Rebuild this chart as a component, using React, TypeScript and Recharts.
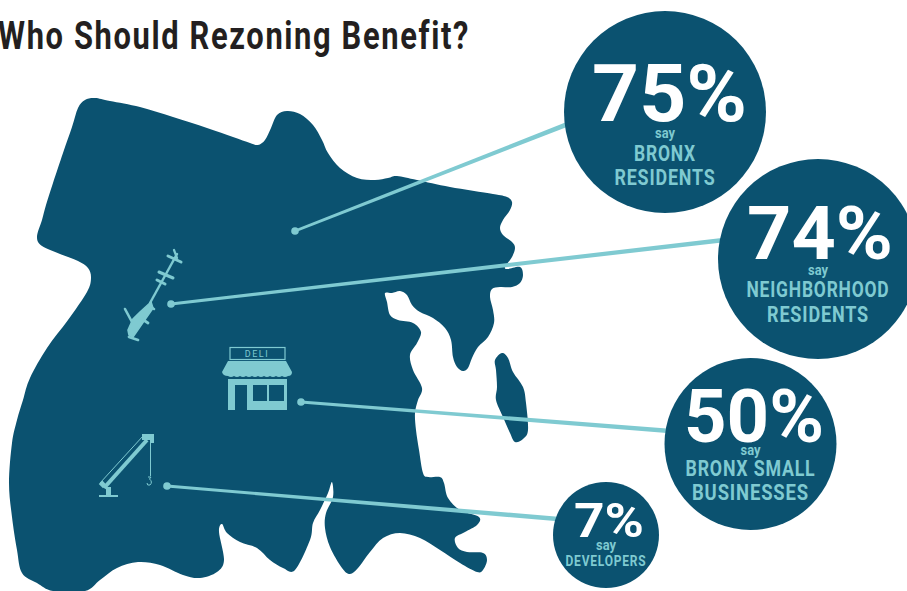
import { Scatter, ScatterChart, XAxis, YAxis } from "recharts";

const NAVY = "#0b5270";
const TEAL = "#7fcad1";
const FONT = "Roboto, sans-serif";

const title = "Who Should Rezoning Benefit?";

// survey results
const percents = ["75%", "74%", "50%", "7%"];
const groupLines = [
  ["BRONX", "RESIDENTS"],
  ["NEIGHBORHOOD", "RESIDENTS"],
  ["BRONX SMALL", "BUSINESSES"],
  ["DEVELOPERS"],
];

// bubble placement on the page
const bubbleX = [665, 818, 750.5, 606];
const bubbleY = [112, 259, 444, 535];
const bubbleR = [101, 100, 86, 53];
const percentSize = [80, 75, 74, 49];
const percentWidth = [155, 146, 140, 70];
const percentLeft = [592, 747, 684, 574];
const labelSize = [22, 22, 22, 15];
const percentBase = [121, 259, 442, 537];
const sayBase = [138, 275, 455, 550];
const labelBases = [[161, 185], [297, 322], [476, 500], [566]];
const labelWidths = [[62, 101], [143, 102], [130, 117], [81]];

// leader lines: start on the map, end at the bubble
const leaderStartX = [295, 171, 301, 167];
const leaderStartY = [231, 304, 402, 486];
const leaderEndX = [568, 724, 670, 558];
const leaderEndY = [124, 240, 431, 519];

// map outline
const mapX = [
  42, 46, 53, 63, 72, 78, 85, 95, 110, 140, 173, 207, 233, 250, 258, 265, 271, 277, 287, 300, 313, 322, 328, 340, 357,
  375, 388, 397, 417, 450, 493, 507, 512, 510, 503, 500, 503, 512, 515, 512, 505, 508, 520, 523, 520, 512, 500, 492,
  490, 493, 494, 488, 478, 472, 468, 463, 457, 453, 451, 445, 433, 420, 412, 407, 400, 392, 385, 387, 390, 398, 413,
  421, 417, 410, 413, 422, 418, 415, 416, 419, 423, 428, 440, 444, 448, 460, 479, 477, 465, 455, 458, 467, 483, 487,
  483, 477, 460, 440, 420, 400, 383, 370, 358, 350, 342, 330, 325, 326, 333, 332, 328, 320, 313, 310, 295, 283, 270,
  257, 240, 227, 222, 219, 224, 217, 200, 183, 160, 138, 117, 100, 85, 53, 37, 22, 17, 12, 9, 12, 17, 23, 30, 47, 68,
  87, 91, 88, 78, 60, 42, 37,
];
const mapY = [
  220, 205, 183, 153, 127, 108, 100, 98, 101, 107, 117, 128, 137, 143, 145, 140, 128, 115, 111, 114, 125, 140, 153,
  168, 178, 180, 178, 176, 180, 187, 194, 197, 202, 210, 220, 228, 235, 242, 248, 257, 267, 269, 267, 275, 283, 287,
  287, 289, 297, 310, 323, 337, 347, 358, 368, 371, 367, 357, 340, 328, 318, 312, 305, 295, 291, 293, 293, 302, 315,
  320, 323, 332, 343, 355, 370, 388, 400, 413, 430, 450, 473, 477, 477, 483, 498, 510, 517, 525, 532, 538, 548, 552,
  553, 560, 570, 572, 563, 550, 538, 533, 538, 552, 568, 574, 568, 547, 528, 513, 497, 482, 493, 510, 523, 540, 570,
  568, 560, 548, 542, 533, 524, 532, 560, 572, 578, 575, 565, 562, 568, 580, 591, 591, 583, 573, 550, 517, 483, 443,
  420, 400, 378, 348, 320, 292, 278, 268, 261, 254, 246, 237,
];
const islandX = [495, 502, 508, 513, 523, 526, 528, 523, 515, 510, 503, 496, 497, 496];
const islandY = [360, 353, 358, 372, 387, 403, 430, 439, 442, 433, 417, 400, 387, 370];

const iconX = [150, 258, 125];
const iconY = [300, 380, 465];

const zip = (xs: number[], ys: number[]) => xs.map((x, i) => ({ x, y: ys[i] }));
const bubbles = percents.map((percent, i) => ({ x: bubbleX[i], y: bubbleY[i], i, percent }));

function smoothClosed(points: { x: number; y: number }[]) {
  const n = points.length;
  let d = `M${points[0].x},${points[0].y}`;
  for (let i = 0; i < n; i++) {
    const p0 = points[(i - 1 + n) % n];
    const p1 = points[i];
    const p2 = points[(i + 1) % n];
    const p3 = points[(i + 2) % n];
    const c1x = p1.x + (p2.x - p0.x) / 6;
    const c1y = p1.y + (p2.y - p0.y) / 6;
    const c2x = p2.x - (p3.x - p1.x) / 6;
    const c2y = p2.y - (p3.y - p1.y) / 6;
    d += `C${c1x},${c1y} ${c2x},${c2y} ${p2.x},${p2.y}`;
  }
  return d + "Z";
}

const LandShape = (props: any) => <path d={smoothClosed(props.points)} fill={NAVY} stroke="none" />;

const NoPoint = () => null;

// line gets a bit thicker towards the bubble, like in the print
const LeaderShape = (props: any) => {
  const [a, b] = props.points;
  const len = Math.hypot(b.x - a.x, b.y - a.y);
  const nx = -(b.y - a.y) / len;
  const ny = (b.x - a.x) / len;
  const w0 = 1.4;
  const w1 = 2.3;
  const d = `M${a.x + nx * w0},${a.y + ny * w0}L${b.x + nx * w1},${b.y + ny * w1}L${b.x - nx * w1},${b.y - ny * w1}L${a.x - nx * w0},${a.y - ny * w0}Z`;
  return <path d={d} fill={TEAL} />;
};

const LeaderDot = (props: any) =>
  props.payload.start ? <circle cx={props.cx} cy={props.cy} r={3.8} fill={TEAL} /> : null;

const Helicopter = () => (
  <g fill={TEAL} stroke={TEAL} strokeLinecap="round">
    <line x1={27} y1={-46} x2={0} y2={3} strokeWidth={2.4} />
    <path d="M1,2 L-10,12 L-17,19 L-22,30 L-21,35 L-17,37 L-6,21 L3,8 Z" strokeWidth={1.6} />
    <line x1={18} y1={-44} x2={31} y2={-38} strokeWidth={3} />
    <line x1={24} y1={-50} x2={27} y2={-42} strokeWidth={2.2} />
    <line x1={9} y1={-28} x2={23} y2={-22} strokeWidth={3} />
    <line x1={7} y1={-20} x2={15} y2={-16} strokeWidth={3} />
    <line x1={-1} y1={6} x2={4} y2={9} strokeWidth={2.6} />
    <line x1={-8} y1={19} x2={-2} y2={23} strokeWidth={2.8} />
    <line x1={-25} y1={9} x2={-18} y2={22} strokeWidth={2.6} />
    <line x1={-21} y1={37} x2={-12} y2={40} strokeWidth={2.6} />
  </g>
);

const Deli = () => (
  <g>
    <rect x={-28} y={-32.5} width={55} height={12} fill="none" stroke={TEAL} strokeWidth={1.2} />
    <text x={-1} y={-23} textAnchor="middle" fontSize={9} letterSpacing={1.6} fontFamily={FONT} fill={TEAL}>
      DELI
    </text>
    <path
      d="M-30,-19 H28 L34,-8 Q34,-4 30,-4 Q27,-2 24,-4 Q21,-2 18,-4 Q15,-2 12,-4 Q9,-2 6,-4 Q3,-2 0,-4 Q-3,-2 -6,-4 Q-9,-2 -12,-4 Q-15,-2 -18,-4 Q-21,-2 -24,-4 Q-27,-2 -30,-4 Q-35,-4 -36,-8 Z"
      fill={TEAL}
    />
    <path
      d="M-30,-1 H29 V30 H-11 V5 H-23 V30 H-30 Z M-5,5 V21 H9 V5 Z M11,5 V21 H26 V5 Z"
      fill={TEAL}
      fillRule="evenodd"
    />
  </g>
);

const Crane = () => (
  <g fill={TEAL} stroke={TEAL}>
    <rect x={-26} y={30} width={19} height={2} stroke="none" />
    <rect x={-19} y={22} width={5} height={9} stroke="none" />
    <line x1={-21} y1={23} x2={22} y2={-25} strokeWidth={4} />
    <line x1={-25} y1={18} x2={18} y2={-29} strokeWidth={1} />
    <rect x={-25} y={17} width={6} height={5} transform="rotate(45 -22 19)" stroke="none" />
    <rect x={17} y={-31} width={12} height={6} stroke="none" />
    <rect x={26} y={-25} width={3} height={3} stroke="none" />
    <line x1={25.5} y1={-25} x2={25.5} y2={11} strokeWidth={1} />
    <path d="M23,12 H26 L24.5,14 Q28,17 25,20 Q22,21 22,18" fill="none" strokeWidth={1} />
  </g>
);

const icons = [Helicopter, Deli, Crane];

const IconShape = (props: any) => {
  const Icon = icons[props.payload.i];
  return (
    <g transform={`translate(${props.cx},${props.cy})`}>
      <Icon />
    </g>
  );
};

const Bubble = (props: any) => {
  const { cx, cy, payload } = props;
  const i = payload.i;
  return (
    <g textAnchor="middle">
      <circle cx={cx} cy={cy} r={bubbleR[i]} fill={NAVY} />
      <text
        x={percentLeft[i]}
        y={percentBase[i]}
        textAnchor="start"
        fontFamily={FONT}
        fontWeight={700}
        fontSize={percentSize[i]}
        textLength={percentWidth[i]}
        lengthAdjust="spacingAndGlyphs"
        fill="#ffffff"
      >
        {payload.percent}
      </text>
      <text
        x={cx}
        y={sayBase[i]}
        fontFamily={FONT}
        fontWeight={700}
        fontSize={14}
        textLength={20}
        lengthAdjust="spacingAndGlyphs"
        fill={TEAL}
      >
        say
      </text>
      {groupLines[i].map((line, k) => (
        <text
          key={line}
          x={cx}
          y={labelBases[i][k]}
          fontFamily={FONT}
          fontWeight={700}
          fontSize={labelSize[i]}
          letterSpacing={1}
          textLength={labelWidths[i][k]}
          lengthAdjust="spacingAndGlyphs"
          fill={TEAL}
        >
          {line}
        </text>
      ))}
    </g>
  );
};

export default function App() {
  return (
    <div style={{ position: "absolute", left: 0, top: 0, width: 907, height: 591, overflow: "hidden", background: "#fff" }}>
      <svg width={907} height={60} style={{ position: "absolute", left: 0, top: 0 }}>
        <text
          x={-2}
          y={49}
          fontFamily={FONT}
          fontWeight={700}
          fontSize={38}
          letterSpacing={2}
          textLength={472}
          lengthAdjust="spacingAndGlyphs"
          fill="#231f20"
        >
          {title}
        </text>
      </svg>
      <ScatterChart width={907} height={591} margin={{ top: 0, right: 0, bottom: 0, left: 0 }}>
        <XAxis type="number" dataKey="x" domain={[0, 907]} hide />
        <YAxis type="number" dataKey="y" domain={[0, 591]} reversed hide />
        <Scatter data={zip(mapX, mapY)} line={LandShape} shape={NoPoint} isAnimationActive={false} />
        <Scatter data={zip(islandX, islandY)} line={LandShape} shape={NoPoint} isAnimationActive={false} />
        <Scatter
          data={iconX.map((x, i) => ({ x, y: iconY[i], i }))}
          shape={IconShape}
          isAnimationActive={false}
        />
        {percents.map((percent, i) => (
          <Scatter
            key={percent}
            data={[
              { x: leaderStartX[i], y: leaderStartY[i], start: true },
              { x: leaderEndX[i], y: leaderEndY[i], start: false },
            ]}
            line={LeaderShape}
            shape={LeaderDot}
            isAnimationActive={false}
          />
        ))}
        <Scatter data={bubbles} shape={Bubble} isAnimationActive={false} />
      </ScatterChart>
    </div>
  );
}
